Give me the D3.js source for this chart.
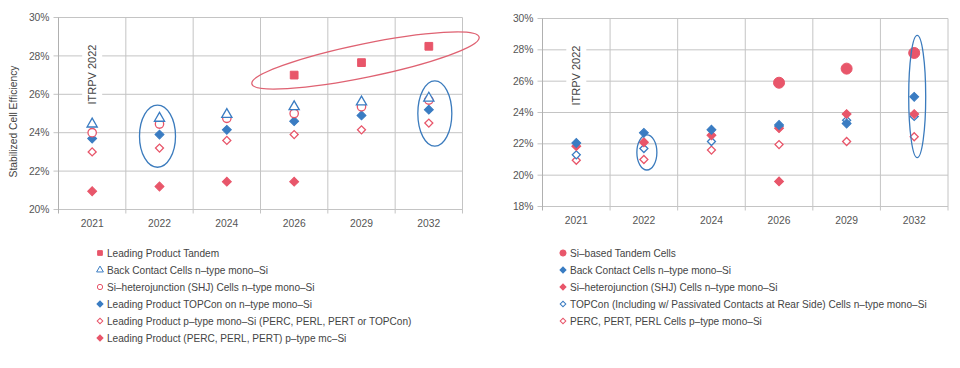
<!DOCTYPE html>
<html>
<head>
    <title>ITRPV 2022 Cell Efficiency</title>
    <script src="https://d3js.org/d3.v7.min.js"></script>
    <style>
        body { margin: 0; background: #fff; }
        svg text { font-family: "Liberation Sans", Arial, sans-serif; }
    </style>
</head>
<body>
    <div id="svgContainer"></div>
    <script>
        const years = ["2021", "2022", "2024", "2026", "2029", "2032"];

        // left chart series (%)
        const leftTandem      = [null, null, null, 27.0, 27.65, 28.5];
        const leftBackContact = [24.45, 24.75, 24.95, 25.35, 25.6, 25.8];
        const leftSHJ         = [24.0, 24.45, 24.75, 25.0, 25.35, 25.7];
        const leftTOPCon      = [23.7, 23.9, 24.15, 24.6, 24.9, 25.2];
        const leftPMono       = [23.0, 23.2, 23.6, 23.9, 24.15, 24.5];
        const leftMcSi        = [20.95, 21.2, 21.45, 21.45, null, null];
        const leftTicks = [20, 22, 24, 26, 28, 30];

        // right chart series (%)
        const rightTandem      = [null, null, null, 25.9, 26.8, 27.8];
        const rightBackContact = [22.05, 22.7, 22.9, 23.2, 23.3, 25.0];
        const rightSHJ         = [21.85, 22.1, 22.55, 23.0, 23.9, 23.9];
        const rightTOPCon      = [21.3, 21.7, 22.15, 23.1, 23.5, 23.75];
        const rightPERC        = [20.95, 21.0, 21.6, 21.95, 22.15, 22.45];
        const rightExtra       = [null, null, null, 19.6, null, null]; // no legend entry
        const rightTicks = [18, 20, 22, 24, 26, 28, 30];

        const leftLabels = [
            "Leading Product Tandem",
            "Back Contact Cells n\u2013type mono\u2013Si",
            "Si\u2013heterojunction (SHJ) Cells n\u2013type mono\u2013Si",
            "Leading Product TOPCon on n\u2013type mono\u2013Si",
            "Leading Product p\u2013type mono\u2013Si (PERC, PERL, PERT or TOPCon)",
            "Leading Product (PERC, PERL, PERT) p\u2013type mc\u2013Si"
        ];
        const rightLabels = [
            "Si\u2013based Tandem Cells",
            "Back Contact Cells n\u2013type mono\u2013Si",
            "Si\u2013heterojunction (SHJ) Cells n\u2013type mono\u2013Si",
            "TOPCon (Including w/ Passivated Contacts at Rear Side) Cells n\u2013type mono\u2013Si",
            "PERC, PERT, PERL Cells p\u2013type mono\u2013Si"
        ];

        // ellipse annotations: year, center value, x offset, rx px, ry in % units, rotation
        const leftMarks = [
            {year: "2022", value: 23.82, dx: -2, rx: 18, ry: 1.62, rot: 0, color: "blue"},
            {year: "2032", value: 25.0, dx: 6, rx: 17, ry: 1.7, rot: 0, color: "blue"},
            {year: "2029", value: 27.76, dx: 4, rx: 116, ry: 0.87, rot: -11.6, color: "pink"}
        ];
        const rightMarks = [
            {year: "2022", value: 21.45, dx: 3, rx: 10, ry: 1.12, rot: 0, color: "blue"},
            {year: "2032", value: 25.02, dx: 3, rx: 8.5, ry: 3.9, rot: 0, color: "blue"}
        ];

        const PINK = "#e8566a", BLUE = "#3a7cc2";
        const colors = {pink: "#df6272", blue: "#3b7bbd"};

        const svg = d3.select("#svgContainer").append("svg")
            .attr("width", 960).attr("height", 368);

        function diamond(size) {
            return d3.symbol().type(d3.symbolSquare).size(size)();
        }
        const sym = (type, size) => d3.symbol().type(type).size(size)();

        function drawChart(opt) {
            const w = opt.right - opt.left, h = opt.bottom - opt.top;
            const g = svg.append("g").attr("transform", `translate(${opt.left},${opt.top})`);

            const x = d3.scaleBand().domain(years).range([0, w]);
            const y = d3.scaleLinear().domain([opt.ticks[0], opt.ticks[opt.ticks.length - 1]]).range([h, 0]);

            // horizontal grid + ticks
            g.selectAll(".hgrid").data(opt.ticks).enter().append("line")
                .attr("x1", -5).attr("x2", w)
                .attr("y1", d => y(d)).attr("y2", d => y(d))
                .attr("stroke", "#c4c4c4").attr("stroke-width", 1);
            g.selectAll(".ylab").data(opt.ticks).enter().append("text")
                .attr("x", -9).attr("y", d => y(d)).attr("dy", "0.35em")
                .attr("text-anchor", "end").attr("font-size", 10.3).attr("fill", "#555")
                .text(d => d + "%");

            // vertical grid
            const edges = years.map(d => x(d)).concat([w]);
            g.selectAll(".vgrid").data(edges).enter().append("line")
                .attr("x1", d => d).attr("x2", d => d)
                .attr("y1", 0).attr("y2", h + 4)
                .attr("stroke", (d, i) => i === 0 ? "#b0b0b0" : "#c4c4c4").attr("stroke-width", 1);
            g.selectAll(".xlab").data(years).enter().append("text")
                .attr("x", d => x(d) + x.bandwidth() / 2).attr("y", h + 17)
                .attr("text-anchor", "middle").attr("font-size", 10.3).attr("fill", "#555")
                .text(d => d);

            // ITRPV label
            const cx0 = x(years[0]) + x.bandwidth() / 2;
            g.append("rect").attr("x", cx0 - 10).attr("y", 24).attr("width", 20).attr("height", 66).attr("fill", "#fff");
            g.append("text")
                .attr("transform", `translate(${cx0 + 4},${57}) rotate(-90)`)
                .attr("text-anchor", "middle").attr("font-size", 11).attr("fill", "#444")
                .text("ITRPV 2022");

            if (opt.yTitle) {
                g.append("text")
                    .attr("transform", `translate(${-opt.left + 17},${h / 2 + 8}) rotate(-90)`)
                    .attr("text-anchor", "middle").attr("font-size", 10.3).attr("fill", "#444")
                    .text(opt.yTitle);
            }

            // points
            opt.series.forEach(s => {
                const pts = s.values.map((v, i) => ({year: years[i], v: v})).filter(d => d.v !== null);
                g.selectAll(null).data(pts).enter().append("path")
                    .attr("transform", d => `translate(${x(d.year) + x.bandwidth() / 2},${y(d.v)})` + (s.rotate ? " rotate(45)" : ""))
                    .attr("d", s.path)
                    .attr("fill", s.fill ? s.color : "#fff")
                    .attr("stroke", s.color)
                    .attr("stroke-width", s.fill ? 1 : 1.3);
            });

            // ellipses
            opt.marks.forEach(m => {
                const cx = x(m.year) + x.bandwidth() / 2 + m.dx;
                const cy = y(m.value);
                const ry = y(opt.ticks[0]) - y(opt.ticks[0] + m.ry);
                g.append("ellipse")
                    .attr("transform", `translate(${cx},${cy}) rotate(${m.rot})`)
                    .attr("rx", m.rx).attr("ry", ry)
                    .attr("fill", "none").attr("stroke", colors[m.color]).attr("stroke-width", 1.3);
            });

            // legend, in label order
            const lg = svg.append("g").attr("transform", `translate(${opt.legendX},${253})`);
            opt.series.filter(s => s.legend !== undefined).forEach(s => {
                const row = lg.append("g").attr("transform", `translate(0,${s.legend * 17})`);
                row.append("path")
                    .attr("transform", s.rotate ? "rotate(45)" : null)
                    .attr("d", s.legendPath)
                    .attr("fill", s.fill ? s.color : "#fff")
                    .attr("stroke", s.color).attr("stroke-width", 1);
                row.append("text").attr("x", 7).attr("dy", "0.35em")
                    .attr("font-size", 10.1).attr("fill", "#444")
                    .text(opt.labels[s.legend]);
            });
        }

        drawChart({
            left: 58.5, right: 462.5, top: 17.5, bottom: 209.5,
            ticks: leftTicks, yTitle: "Stabilized Cell Efficiency",
            marks: leftMarks, legendX: 100, labels: leftLabels,
            series: [
                {values: leftMcSi, color: PINK, fill: true, rotate: true, path: diamond(40), legendPath: diamond(18), legend: 5},
                {values: leftPMono, color: PINK, fill: false, rotate: true, path: diamond(32), legendPath: diamond(16), legend: 4},
                {values: leftTOPCon, color: BLUE, fill: true, rotate: true, path: diamond(40), legendPath: diamond(18), legend: 3},
                {values: leftSHJ, color: PINK, fill: false, rotate: false, path: sym(d3.symbolCircle, 55), legendPath: sym(d3.symbolCircle, 22), legend: 2},
                {values: leftBackContact, color: BLUE, fill: false, rotate: false, path: sym(d3.symbolTriangle, 45), legendPath: sym(d3.symbolTriangle, 20), legend: 1},
                {values: leftTandem, color: PINK, fill: true, rotate: false, path: sym(d3.symbolSquare, 60), legendPath: sym(d3.symbolSquare, 22), legend: 0}
            ]
        });

        drawChart({
            left: 542.5, right: 948, top: 18.5, bottom: 206.5,
            ticks: rightTicks, yTitle: null,
            marks: rightMarks, legendX: 563, labels: rightLabels,
            series: [
                {values: rightExtra, color: PINK, fill: true, rotate: true, path: diamond(40), legendPath: diamond(18)},
                {values: rightPERC, color: PINK, fill: false, rotate: true, path: diamond(32), legendPath: diamond(16), legend: 4},
                {values: rightTOPCon, color: BLUE, fill: false, rotate: true, path: diamond(32), legendPath: diamond(16), legend: 3},
                {values: rightSHJ, color: PINK, fill: true, rotate: true, path: diamond(40), legendPath: diamond(18), legend: 2},
                {values: rightBackContact, color: BLUE, fill: true, rotate: true, path: diamond(40), legendPath: diamond(18), legend: 1},
                {values: rightTandem, color: PINK, fill: true, rotate: false, path: sym(d3.symbolCircle, 95), legendPath: sym(d3.symbolCircle, 30), legend: 0}
            ]
        });
    </script>
</body>
</html>
